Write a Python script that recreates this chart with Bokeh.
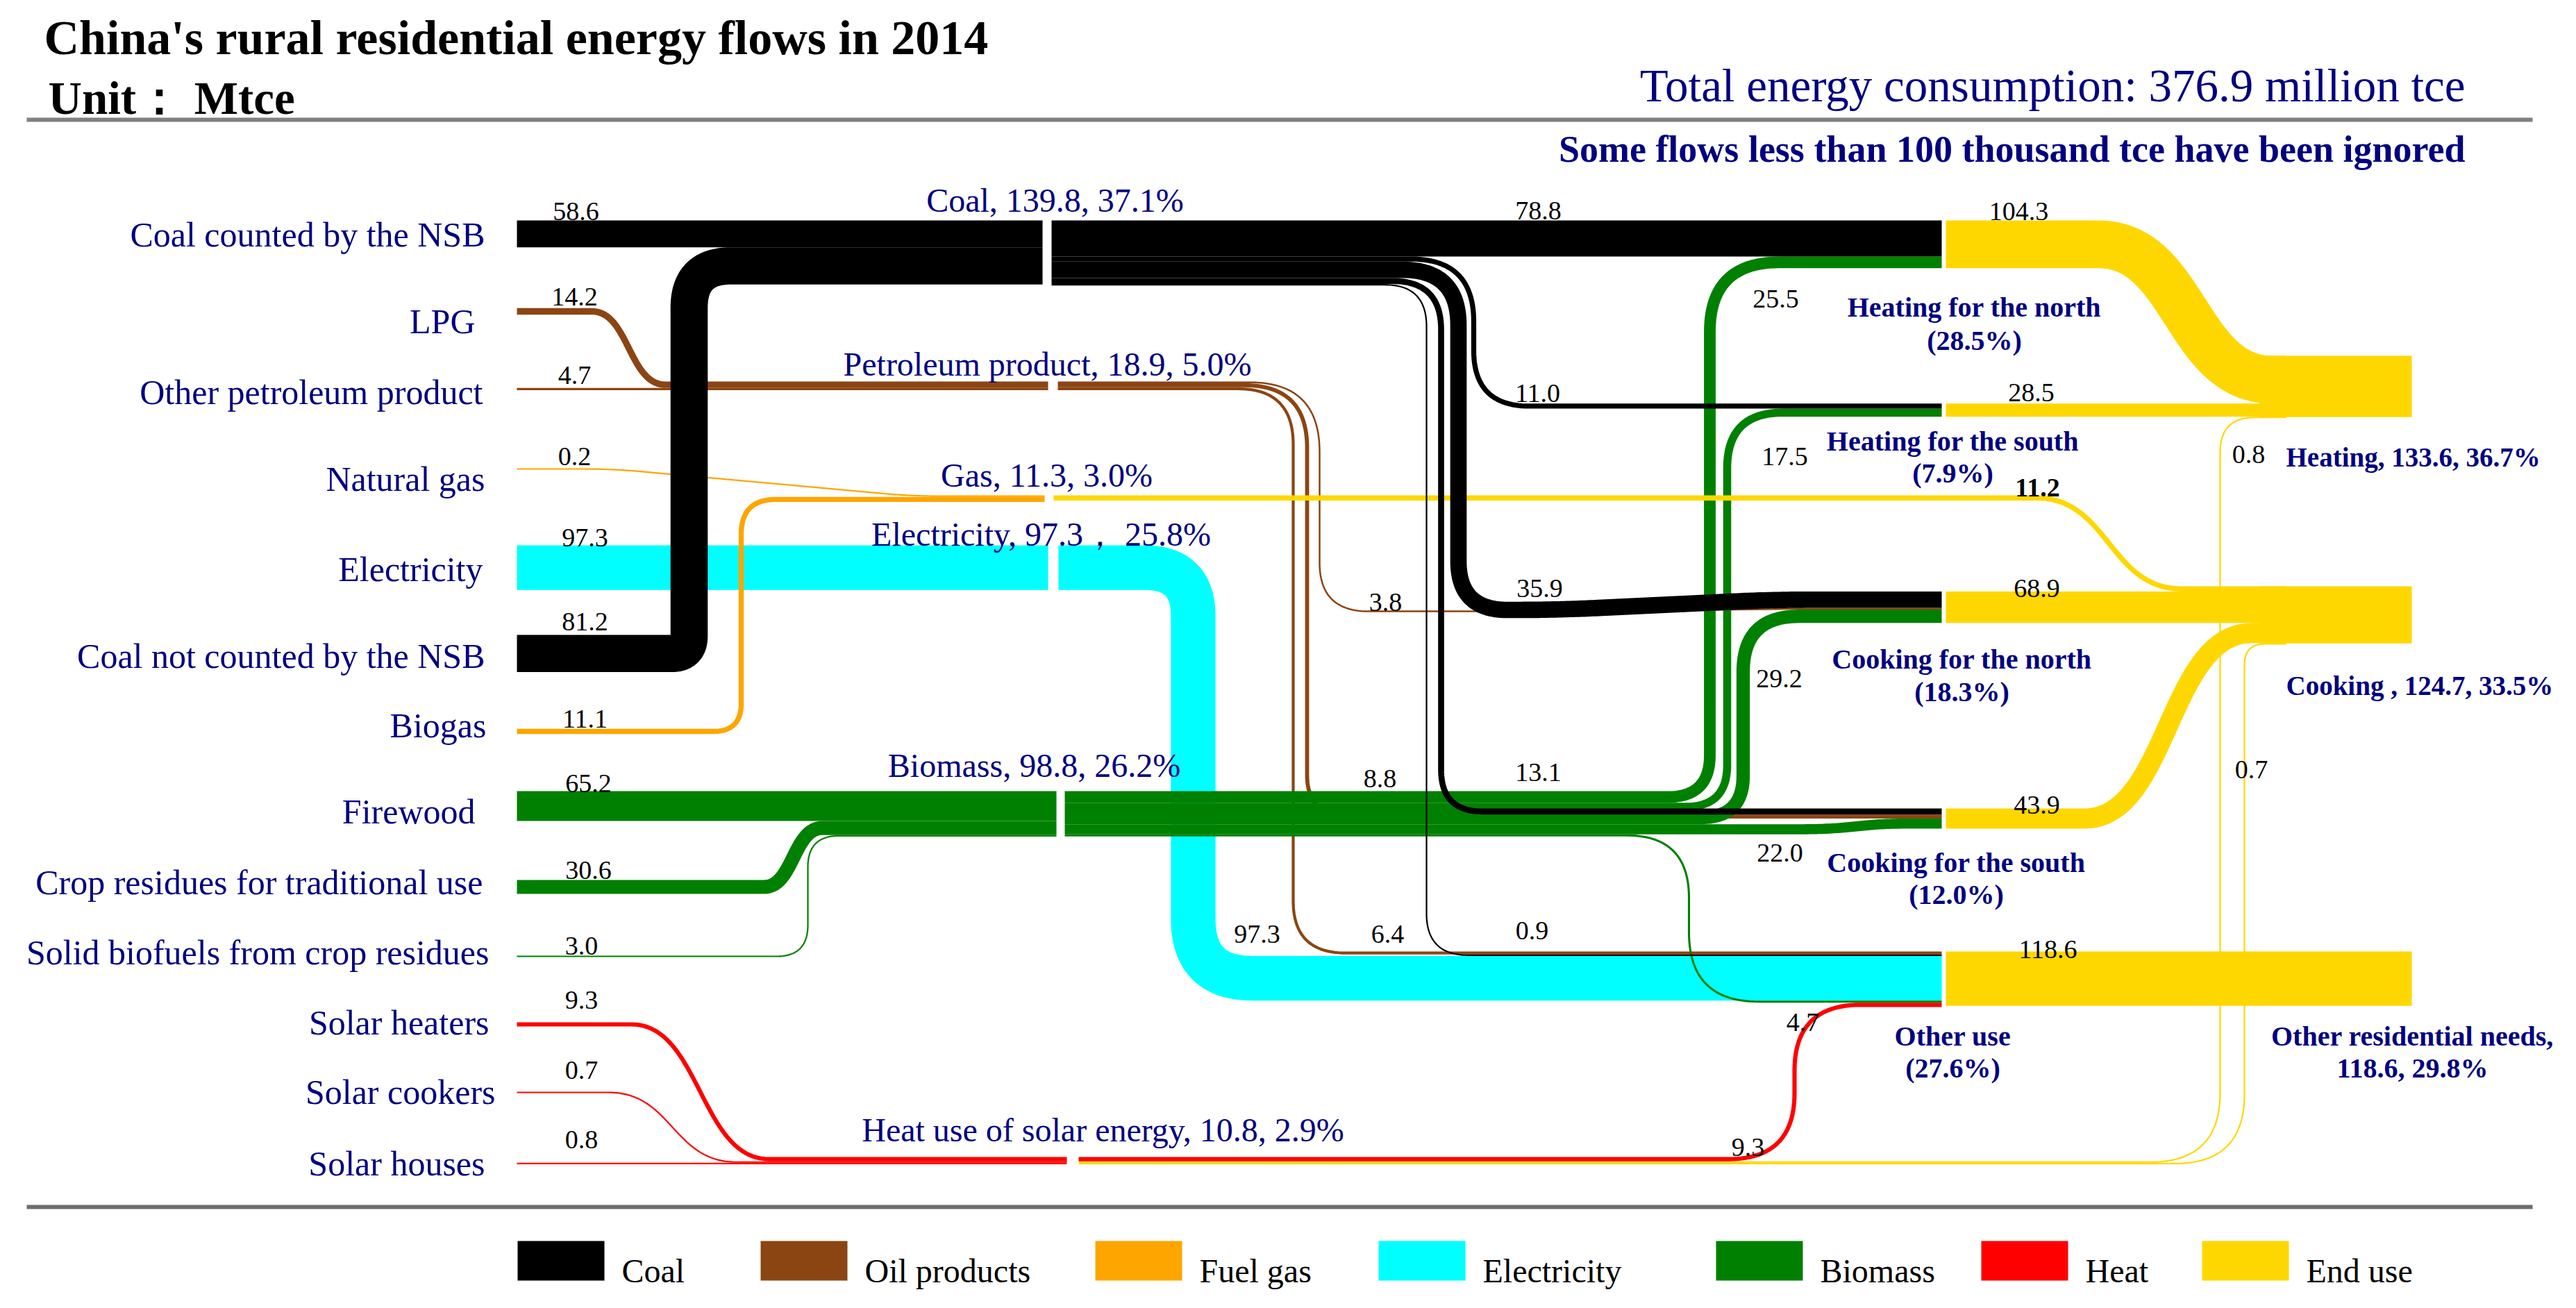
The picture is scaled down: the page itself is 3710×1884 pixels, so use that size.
import numpy as np
from bokeh.plotting import figure
from bokeh.models import Range1d
from bokeh.embed import file_html
from bokeh.resources import INLINE
from bokeh.core.properties import value

# ================= DATA =================
sources = ["Coal counted by the NSB", "LPG", "Other petroleum product", "Natural gas",
           "Electricity", "Coal not counted by the NSB", "Biogas", "Firewood",
           "Crop residues for traditional use", "Solid biofuels from crop residues",
           "Solar heaters", "Solar cookers", "Solar houses"]
source_values = [58.6, 14.2, 4.7, 0.2, 97.3, 81.2, 11.1, 65.2, 30.6, 3.0, 9.3, 0.7, 0.8]

carriers = ["Coal", "Petroleum product", "Gas", "Electricity", "Biomass", "Heat use of solar energy"]
carrier_values = [139.8, 18.9, 11.3, 97.3, 98.8, 10.8]
carrier_shares = ["37.1%", "5.0%", "3.0%", "25.8%", "26.2%", "2.9%"]
carrier_seps = [", ", ", ", ", ", "\uff0c  ", ", ", ", "]

uses = ["Heating for the north", "Heating for the south", "Cooking for the north",
        "Cooking for the south", "Other use"]
use_values = [104.3, 28.5, 68.9, 43.9, 118.6]
use_shares = ["28.5%", "7.9%", "18.3%", "12.0%", "27.6%"]

finals = ["Heating", "Cooking ", "Other residential needs"]
final_values = [133.6, 124.7, 118.6]
final_shares = ["36.7%", "33.5%", "29.8%"]

# carrier -> use flows
coal_to_use = [78.8, 11.0, 35.9, 13.1, 0.9]      # HN, HS, CN, CS, Other use
oil_to_use = [3.8, 8.8, 6.4]                     # CN, CS, Other use
elec_to_use = [97.3]                             # Other use
bio_to_use = [25.5, 17.5, 29.2, 22.0, 4.7]       # HN, HS, CN, CS, Other use
heat_to = [9.3, 0.8, 0.7]                        # Other use, Heating, Cooking
gas_to_cooking = [11.2]                          # Cooking

legend_names = ["Coal", "Oil products", "Fuel gas", "Electricity", "Biomass", "Heat", "End use"]

# ================= STYLE / LAYOUT =================
C_COAL, C_OIL, C_GAS, C_ELEC, C_BIO, C_HEAT, C_END = (
    "#000000", "#8B4513", "#FFA500", "#00FFFF", "#008000", "#FF0000", "#FFD700")
legend_colors = [C_COAL, C_OIL, C_GAS, C_ELEC, C_BIO, C_HEAT, C_END]
NAVY = "#000080"
FONT = "Liberation Serif"
TY = -10          # baseline correction for text

K = 0.66          # px per Mtce
MINW = 2.2        # minimum drawn width


def w(v):
    return max(v * K, MINW)


def stack(top, vals):
    out, y = [], top
    for v in vals:
        h = w(v)
        out.append(y + h / 2)
        y += h
    return out


def build(start, *ops):
    pts, rad = [start], [0]
    for op in ops:
        if op[0] == "L":
            pts.append((op[1], op[2])); rad.append(0)
        elif op[0] == "K":
            pts.append((op[1], op[2])); rad.append(op[3])
        elif op[0] == "S":
            x0, y0 = pts[-1]
            x1, y1 = op[1], op[2]
            xm = (x0 + x1) / 2
            t = np.linspace(0, 1, 48)[1:]
            bx = (1 - t) ** 3 * x0 + 3 * (1 - t) ** 2 * t * xm + 3 * (1 - t) * t ** 2 * xm + t ** 3 * x1
            by = (1 - t) ** 3 * y0 + 3 * (1 - t) ** 2 * t * y0 + 3 * (1 - t) * t ** 2 * y1 + t ** 3 * y1
            for a, b in zip(bx, by):
                pts.append((a, b)); rad.append(0)
    xs, ys = [pts[0][0]], [pts[0][1]]
    for i in range(1, len(pts) - 1):
        r = rad[i]
        if r <= 0:
            xs.append(pts[i][0]); ys.append(pts[i][1]); continue
        P = np.array(pts[i], float); A = np.array(pts[i - 1], float); B = np.array(pts[i + 1], float)
        la = np.linalg.norm(A - P); lb = np.linalg.norm(B - P)
        da = la * 0.5 if rad[i - 1] > 0 else la * 0.98
        db = lb * 0.5 if rad[i + 1] > 0 else lb * 0.98
        d = min(r, da, db)
        T1 = P + (A - P) / la * d
        T2 = P + (B - P) / lb * d
        t = np.linspace(0, 1, 30)[:, None]
        q = (1 - t) ** 2 * T1 + 2 * (1 - t) * t * P + t ** 2 * T2
        xs.extend(q[:, 0]); ys.extend(q[:, 1])
    xs.append(pts[-1][0]); ys.append(pts[-1][1])
    return xs, ys


W, H = 3690, 1864
p = figure(width=W, height=H, x_range=Range1d(8, 8 + W), y_range=Range1d(8 + H, 8),
           output_backend="svg", toolbar_location=None, min_border=0)
p.axis.visible = False
p.grid.visible = False
p.outline_line_color = None
p.background_fill_color = "white"
p.border_fill_color = "white"


def band(path, v, color):
    xs, ys = path
    p.line(xs, ys, line_width=w(v), line_color=color, line_cap="butt", line_join="round")


# x positions
X0 = 752
G_COAL, G_OIL, G_GAS, G_ELEC, G_BIO, G_HEAT = (1509, 1522), (1517, 1531), (1512, 1525), (1517, 1532), (1529, 1541), (1544, 1561)
XU_IN, XU_OUT = 2804, 2810
XF0, XF1 = 3262, 3481
XEND = 3300

# node tops
T_COAL, T_OIL, T_GAS, T_ELEC, T_BIO, T_HEAT = 325, 557, 721, 793, 1147, 1674
T_HEATING, T_COOKING = 520, 852
T_HN = 325
T_HS = T_HEATING + use_values[0] * K
T_CN = T_COOKING + w(gas_to_cooking[0])
T_CS = 1172
T_OU = 1378

# stacks
ce = stack(T_COAL, [source_values[0], source_values[5]])
oe = stack(T_OIL, [source_values[1], source_values[2]])
ge = stack(T_GAS, [source_values[3], source_values[6]])
ee = stack(T_ELEC, [source_values[4]])
be = stack(T_BIO, [source_values[7], source_values[8], source_values[9]])
he = stack(T_HEAT, [source_values[10], source_values[11], source_values[12]])

co = stack(T_COAL, coal_to_use)
oo = stack(T_OIL, oil_to_use)
eo = stack(T_ELEC, elec_to_use)
bo = stack(T_BIO, bio_to_use)
ho = stack(T_HEAT, heat_to)
go = stack(T_GAS, gas_to_cooking)

hn = stack(T_HN, [coal_to_use[0], bio_to_use[0]])
hs = stack(T_HS, [coal_to_use[1], bio_to_use[1]])
cn = stack(T_CN, [coal_to_use[2], oil_to_use[0], bio_to_use[2]])
cs = stack(T_CS, [coal_to_use[3], oil_to_use[1], bio_to_use[3]])
ou = stack(T_OU, [oil_to_use[2], coal_to_use[4], elec_to_use[0], bio_to_use[4], heat_to[0]])

ht = stack(T_HEATING, [use_values[0], use_values[1], heat_to[1]])
ck = stack(T_COOKING, [gas_to_cooking[0], use_values[2], use_values[3], heat_to[2]])

# ---------------- electricity ----------------
band(build((X0, ee[0]), ("L", G_ELEC[0], ee[0])), source_values[4], C_ELEC)
band(build((G_ELEC[1], eo[0]), ("K", 1726, eo[0], 70), ("K", 1726, ou[2], 85), ("L", XU_IN, ou[2])),
     elec_to_use[0], C_ELEC)

# ---------------- oil ----------------
band(build((X0, 456), ("L", 860, 456), ("S", 966, oe[0]), ("L", G_OIL[0], oe[0])), source_values[1], C_OIL)
band(build((X0, oe[1]), ("L", G_OIL[0], oe[1])), source_values[2], C_OIL)
band(build((G_OIL[1], oo[0]), ("K", 1908, oo[0], 100), ("K", 1908, 888, 70), ("L", 2300, 888),
           ("L", 2600, cn[1]), ("L", XU_IN, cn[1])), oil_to_use[0], C_OIL)
band(build((G_OIL[1], oo[1]), ("K", 1890, oo[1], 90), ("K", 1890, cs[1], 60), ("L", XU_IN, cs[1])), oil_to_use[1], C_OIL)
band(build((G_OIL[1], oo[2]), ("K", 1870, oo[2], 80), ("K", 1870, ou[0], 75), ("L", XU_IN, ou[0])), oil_to_use[2], C_OIL)

# ---------------- biomass ----------------
band(build((X0, be[0]), ("L", G_BIO[0], be[0])), source_values[7], C_BIO)
band(build((X0, 1285), ("L", 1108, 1285), ("S", 1192, be[1]), ("L", G_BIO[0], be[1])), source_values[8], C_BIO)
band(build((X0, 1385), ("K", 1171, 1385, 45), ("K", 1171, be[2], 45), ("L", G_BIO[0], be[2])), source_values[9], C_BIO)
band(build((G_BIO[1], bo[4]), ("K", 2440, bo[4], 90), ("K", 2440, ou[3], 100), ("L", XU_IN, ou[3])), bio_to_use[4], C_BIO)
band(build((G_BIO[1], bo[3]), ("L", 2600, bo[3]), ("S", 2760, cs[2]), ("L", XU_IN, cs[2])), bio_to_use[3], C_BIO)
band(build((G_BIO[1], bo[2]), ("K", 2518, bo[2], 60), ("K", 2518, cn[2], 80), ("L", XU_IN, cn[2])), bio_to_use[2], C_BIO)
band(build((G_BIO[1], bo[1]), ("K", 2495, bo[1], 60), ("K", 2495, hs[1], 80), ("L", XU_IN, hs[1])), bio_to_use[1], C_BIO)
band(build((G_BIO[1], bo[0]), ("K", 2470, bo[0], 60), ("K", 2470, hn[1], 100), ("L", XU_IN, hn[1])), bio_to_use[0], C_BIO)

# ---------------- gas ----------------
band(build((X0, 683), ("K", 890, 683, 40), ("K", 1320, ge[0], 40), ("L", G_GAS[0], ge[0])), source_values[3], C_GAS)
band(build((X0, 1061), ("K", 1075, 1061, 40), ("K", 1075, ge[1], 50), ("L", G_GAS[0], ge[1])), source_values[6], C_GAS)
band(build((G_GAS[1], go[0]), ("L", 2940, go[0]), ("S", 3150, ck[0]), ("L", XEND, ck[0])), gas_to_cooking[0], C_END)

# ---------------- coal ----------------
band(build((X0, ce[0]), ("L", G_COAL[0], ce[0])), source_values[0], C_COAL)
band(build((X0, 948.8), ("K", 1000, 948.8, 25), ("K", 1000, ce[1], 60), ("L", G_COAL[0], ce[1])), source_values[5], C_COAL)
band(build((G_COAL[1], co[0]), ("L", XU_IN, hn[0])), coal_to_use[0], C_COAL)
band(build((G_COAL[1], co[1]), ("K", 2130, co[1], 90), ("K", 2130, hs[0], 80), ("L", XU_IN, hs[0])), coal_to_use[1], C_COAL)
band(build((G_COAL[1], co[2]), ("K", 2108, co[2], 80), ("K", 2108, 886, 70), ("K", 2250, 886, 60),
           ("K", 2560, cn[0], 60), ("L", XU_IN, cn[0])), coal_to_use[2], C_COAL)
band(build((G_COAL[1], co[3]), ("K", 2083, co[3], 70), ("K", 2083, cs[0], 60), ("L", XU_IN, cs[0])), coal_to_use[3], C_COAL)
band(build((G_COAL[1], co[4]), ("K", 2062, co[4], 60), ("K", 2062, ou[1], 60), ("L", XU_IN, ou[1])), coal_to_use[4], C_COAL)

# ---------------- heat ----------------
band(build((G_HEAT[1], ho[2]), ("K", 3240, ho[2], 100), ("K", 3240, ck[3], 30), ("L", XEND, ck[3])), heat_to[2], C_END)
band(build((G_HEAT[1], ho[1]), ("K", 3205, ho[1], 100), ("K", 3205, ht[2], 50), ("L", XEND, ht[2])), heat_to[1], C_END)
band(build((X0, 1483), ("L", 917, 1483), ("S", 1115, he[0]), ("L", G_HEAT[0], he[0])), source_values[10], C_HEAT)
band(build((X0, 1581), ("L", 884, 1581), ("S", 1068, he[1]), ("L", G_HEAT[0], he[1])), source_values[11], C_HEAT)
band(build((X0, he[2]), ("L", G_HEAT[0], he[2])), source_values[12], C_HEAT)
band(build((G_HEAT[1], ho[0]), ("K", 2592, ho[0], 95), ("K", 2592, ou[4], 95), ("L", XU_IN, ou[4])), heat_to[0], C_HEAT)

# ---------------- end use ----------------
hn_c = T_HN + use_values[0] * K / 2
cs_c = T_CS + use_values[3] * K / 2
band(build((XU_OUT, hn_c), ("L", 3030, hn_c), ("S", 3280, ht[0]), ("L", XEND, ht[0])), use_values[0], C_END)
band(build((XU_OUT, ht[1]), ("L", XEND, ht[1])), use_values[1], C_END)
band(build((XU_OUT, ck[1]), ("L", XEND, ck[1])), use_values[2], C_END)
band(build((XU_OUT, cs_c), ("L", 3010, cs_c), ("S", 3250, ck[2]), ("L", XEND, ck[2])), use_values[3], C_END)

p.quad(left=[XF0, XF0, XU_OUT], right=[XF1, XF1, XF1],
       top=[T_HEATING, T_COOKING, T_OU],
       bottom=[T_HEATING + final_values[0] * K, T_COOKING + final_values[1] * K, T_OU + final_values[2] * K],
       fill_color=C_END, line_color=None)

# ================= TEXT =================
def txt(x, y, s, size, color=NAVY, align="left", bold=False):
    p.text(x=[x], y=[y + TY], text=[s], text_font=value(FONT), text_font_size=f"{size}px",
           text_color=color, text_align=align, text_baseline="alphabetic",
           text_font_style="bold" if bold else "normal")


def fmt(v):
    return f"{v:.1f}"


txt(71, 72, "China's rural residential energy flows in 2014", 70, "#000000", bold=True)
txt(77, 158, "Unit\uff1a Mtce", 67, "#000000", bold=True)
txt(3558, 140, "Total energy consumption: 376.9 million tce", 67, NAVY, align="right")
txt(3558, 232, "Some flows less than 100 thousand tce have been ignored", 54, NAVY, align="right", bold=True)

p.line([46, 3655], [180, 180], line_width=6, line_color="#808080")
p.line([46, 3655], [1746, 1746], line_width=6, line_color="#6e6e6e")

# source labels
SRC_LX = [706, 692, 703, 706, 703, 706, 708, 692, 703, 712, 712, 721, 706]
SRC_LY = [355, 480, 582, 707, 837, 962, 1062, 1186, 1288, 1389, 1490, 1590, 1693]
for name, x, y in zip(sources, SRC_LX, SRC_LY):
    txt(x, y, name, 50, NAVY, align="right")

SRC_VAL_POS = [(837, 322), (835, 445), (835, 558), (835, 675), (850, 792), (850, 913), (850, 1053),
               (855, 1146), (855, 1271), (845, 1380), (845, 1458), (845, 1559), (845, 1659)]
for v, (x, y) in zip(source_values, SRC_VAL_POS):
    txt(x, y, fmt(v), 38, "#000000", align="center")

# carrier labels
CAR_POS = [(1527, 306), (1516, 542), (1515, 702), (1513, 787), (1497, 1120), (1596, 1645)]
for n, v, s, sep, (x, y) in zip(carriers, carrier_values, carrier_shares, carrier_seps, CAR_POS):
    txt(x, y, f"{n}, {fmt(v)}{sep}{s}", 48, NAVY, align="center")

# flow value labels
def vals(arr, pos, bold=False):
    for v, (x, y) in zip(arr, pos):
        txt(x, y, fmt(v), 38, "#000000", align="center", bold=bold)


vals(coal_to_use, [(2223, 321), (2222, 584), (2225, 865), (2223, 1130), (2214, 1358)])
vals(oil_to_use, [(2003, 885), (1995, 1139), (2006, 1363)])
vals(elec_to_use, [(1818, 1363)])
vals(bio_to_use, [(2565, 448), (2578, 675), (2570, 995), (2571, 1246), (2604, 1490)])
vals(heat_to, [(2525, 1670), (3246, 672), (3250, 1126)])
vals(gas_to_cooking, [(2942, 720)], bold=True)
vals(use_values, [(2915, 322), (2933, 583), (2941, 865), (2941, 1177), (2957, 1385)])

# use labels
USE_POS = [(2851, 460, 508), (2820, 653, 699), (2833, 967, 1014), (2825, 1260, 1306), (2820, 1510, 1556)]
for n, s, (x, y1, y2) in zip(uses, use_shares, USE_POS):
    txt(x, y1, n, 40, NAVY, align="center", bold=True)
    txt(x, y2, f"({s})", 40, NAVY, align="center", bold=True)

# final labels
txt(3300, 676, f"{finals[0]}, {fmt(final_values[0])}, {final_shares[0]}", 39, NAVY, bold=True)
txt(3300, 1005, f"{finals[1]}, {fmt(final_values[1])}, {final_shares[1]}", 39, NAVY, bold=True)
txt(3482, 1510, f"{finals[2]},", 40, NAVY, align="center", bold=True)
txt(3482, 1556, f"{fmt(final_values[2])}, {final_shares[2]}", 40, NAVY, align="center", bold=True)

# legend
LEG_X = [753, 1103, 1585, 1993, 2479, 2861, 3179]
p.quad(left=LEG_X, right=[x + 125 for x in LEG_X], top=[1795] * 7, bottom=[1852] * 7,
       fill_color=legend_colors, line_color=None)
for name, x in zip(legend_names, LEG_X):
    txt(x + 150, 1848, name, 48, "#000000")

open("out.html", "w").write(file_html(p, INLINE))
